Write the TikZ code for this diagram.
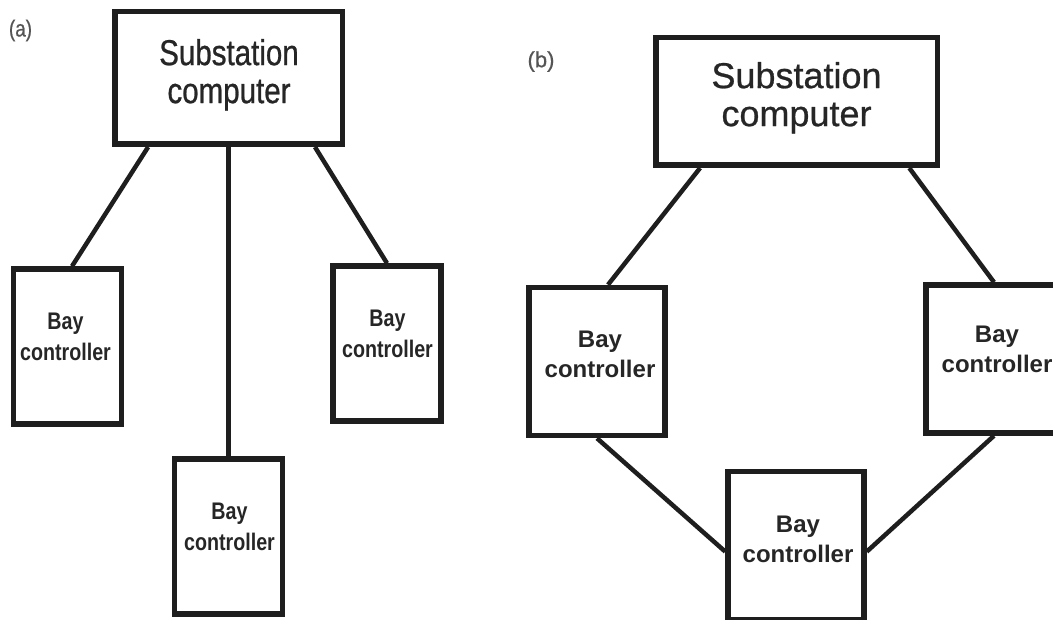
\documentclass[tikz,border=0pt]{standalone}
\usepackage{fontspec}
\setmainfont{Liberation Sans}
\newfontfamily\narrowsf{Liberation Sans}[FakeStretch=0.82]
\newfontfamily\heavysf{Liberation Sans}[FakeBold=0.7]
\newfontfamily\heavynarrowsf{Liberation Sans}[FakeStretch=0.82, FakeBold=0.7]
\usetikzlibrary{calc}

\definecolor{ink}{HTML}{1E1E1E}
\definecolor{txtgray}{HTML}{262626}
\definecolor{labgray}{HTML}{555555}

\begin{document}
\begin{tikzpicture}[x=1pt, y=-1pt,
    % --- Box styles ---
    box/.style={draw=ink, line width=5.5pt, fill=white, inner sep=0pt},
    subboxa/.style={box, minimum width=227.5pt, minimum height=132.5pt},
    subboxb/.style={box, minimum width=281.5pt, minimum height=127.5pt},
    bayboxa/.style={box, minimum width=108pt, minimum height=155pt},
    bayboxb/.style={box, minimum width=136pt, minimum height=148pt},
    % --- Text styles ---
    subtxta/.style={align=center, text=txtgray, inner sep=0pt,
                    font=\heavynarrowsf\fontsize{36}{38}\selectfont},
    subtxtb/.style={align=center, text=txtgray, inner sep=0pt,
                    font=\heavysf\fontsize{36}{38}\selectfont},
    baytxta/.style={align=center, text=txtgray, inner sep=0pt,
                    font=\narrowsf\bfseries\fontsize{24}{31}\selectfont},
    baytxtb/.style={align=center, text=txtgray, inner sep=0pt,
                    font=\bfseries\fontsize{24}{30}\selectfont},
    panel/.style={text=labgray, inner sep=0pt, font=\heavysf\fontsize{22}{24}\selectfont},
    % --- Connector style ---
    link/.style={draw=ink, line width=4.5pt},
]
\useasboundingbox (0,0) rectangle (1053,620);
\clip (0,0) rectangle (1053,620);

% === (a) star layout ===
\node[panel, font=\heavynarrowsf\fontsize{23}{24}\selectfont] (laba) at (20.5,30.5) {(a)};
\node[subboxa] (subA) at (228.5,78) {};
\node[bayboxa] (A1) at (67.5,346.5) {};
\node[bayboxa] (A2) at (228.5,536.5) {};
\node[bayboxa] (A3) at (387,343.5) {};

\draw[link] ($(subA.south west)!0.155!(subA.south east)$) -- ($(A1.north)+(4.5,0)$);
\draw[link] (subA.south) -- (A2.north);
\draw[link] ($(subA.south west)!0.871!(subA.south east)$) -- (A3.north);

\node[subtxta] (tsubA) at (229,74.8) {Substation\\computer};
\node[baytxta] (tA1) at (65.5,337) {Bay\\controller};
\node[baytxta] (tA2) at (229.5,527) {Bay\\controller};
\node[baytxta] (tA3) at (387.5,334) {Bay\\controller};

% === (b) ring layout ===
\node[panel] (labb) at (541,61.5) {(b)};
\node[subboxb] (subB) at (796.5,101.5) {};
\node[bayboxb] (B1) at (597,361.5) {};
\node[bayboxb] (B2) at (796,545.5) {};
\node[bayboxb] (B3) at (994,359) {};

\draw[link] ($(subB.south west)!0.164!(subB.south east)$) -- ($(B1.north)+(11,0)$);
\draw[link] ($(subB.south west)!0.893!(subB.south east)$) -- (B3.north);
\draw[link] (B1.south) -- ($(B2.north west)!0.54!(B2.south west)$);
\draw[link] (B3.south) -- ($(B2.north east)!0.54!(B2.south east)$);

\node[subtxtb] (tsubB) at (796.5,97.8) {Substation\\computer};
\node[baytxtb] (tB1) at (600,354) {Bay\\controller};
\node[baytxtb] (tB2) at (798,539) {Bay\\controller};
\node[baytxtb] (tB3) at (997,349) {Bay\\controller};

\end{tikzpicture}
\end{document}
